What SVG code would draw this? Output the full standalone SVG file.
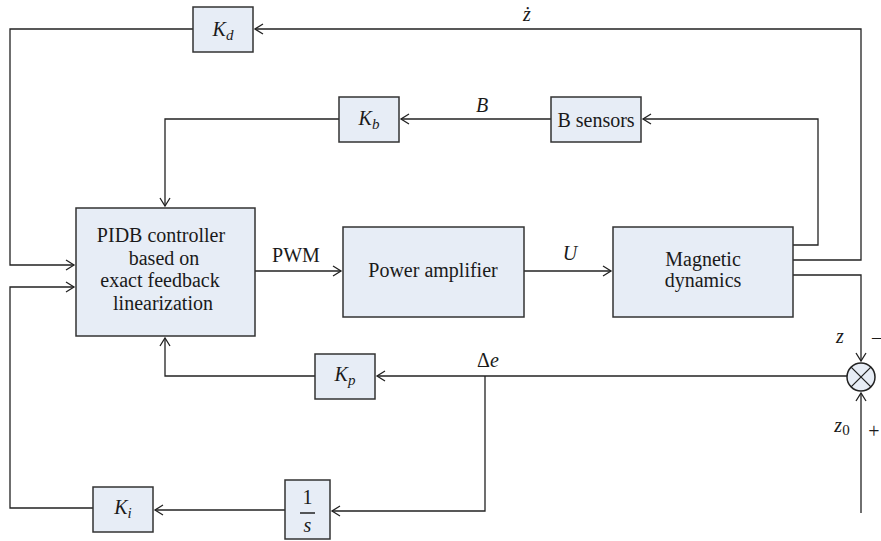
<svg xmlns="http://www.w3.org/2000/svg" width="881" height="541" viewBox="0 0 881 541" font-family="'Liberation Serif', 'DejaVu Serif', 'Times New Roman', serif">
<defs>
<marker id="ah" markerUnits="userSpaceOnUse" markerWidth="12" markerHeight="12" refX="9" refY="6" orient="auto" overflow="visible">
<path d="M1,1 L9,6 L1,11" fill="none" stroke="#222" stroke-width="1.3"/>
</marker>
</defs>
<style>
.box{fill:#e7edf6;stroke:#333;stroke-width:1.5}
.c{fill:none;stroke:#222;stroke-width:1.3;marker-end:url(#ah)}
text{font-family:'Liberation Serif','DejaVu Serif','Times New Roman',serif;font-size:20px;fill:#1a1a1a;text-anchor:middle}
.i{font-style:italic}
</style>
<g id="connectors">
<polyline class="c" points="793,260 861,260 861,29 255,29"/>
<polyline class="c" points="193,29 10,29 10,265 74,265"/>
<polyline class="c" points="793,245 818,245 818,119 643,119"/>
<polyline class="c" points="551,119 401,119"/>
<polyline class="c" points="339,119 165,119 165,206"/>
<polyline class="c" points="255,271 341,271"/>
<polyline class="c" points="524,271 611,271"/>
<polyline class="c" points="793,275 861,275 861,361"/>
<polyline class="c" points="861,513 861,393"/>
<polyline class="c" points="847,376 377,376"/>
<polyline class="c" points="315,376 165,376 165,338"/>
<polyline class="c" points="485,376 485,511 332,511"/>
<polyline class="c" points="285,510 155,510"/>
<polyline class="c" points="93,508 10,508 10,287 74,287"/>
</g>
<g id="labels">
<text class="i" x="527" y="21">ż</text>
<text class="i" x="482" y="112">B</text>
<text x="296" y="262">PWM</text>
<text class="i" x="570" y="260">U</text>
<text x="488" y="367">Δ<tspan class="i">e</tspan></text>
<text class="i" x="840" y="343">z</text>
<text x="877" y="344">–</text>
<text x="842" y="432"><tspan class="i">z</tspan><tspan font-size="15" dy="3">0</tspan></text>
<text x="874" y="438">+</text>
</g>
<g id="Kd">
<rect class="box" x="193" y="7" width="60" height="45"/>
<text class="i" x="223" y="36">K<tspan font-size="15" dy="4">d</tspan></text>
</g>
<g id="Kb">
<rect class="box" x="339" y="97" width="60" height="45"/>
<text class="i" x="369" y="125">K<tspan font-size="15" dy="4">b</tspan></text>
</g>
<g id="Bsensors">
<rect class="box" x="551" y="97" width="90" height="45"/>
<text x="596" y="127">B sensors</text>
</g>
<g id="PIDB">
<rect class="box" x="76" y="208" width="179" height="128"/>
<text x="161" y="242">PIDB controller</text>
<text x="164" y="265">based on</text>
<text x="160" y="287">exact feedback</text>
<text x="163" y="310">linearization</text>
</g>
<g id="PowerAmplifier">
<rect class="box" x="343" y="227" width="181" height="90"/>
<text x="433" y="277">Power amplifier</text>
</g>
<g id="MagneticDynamics">
<rect class="box" x="613" y="227" width="180" height="90"/>
<text x="703" y="266">Magnetic</text>
<text x="703" y="287">dynamics</text>
</g>
<g id="sum">
<circle cx="861" cy="377" r="14" fill="#e7edf6" stroke="#222" stroke-width="1.5"/>
<path d="M851.1,367.1 L870.9,386.9 M870.9,367.1 L851.1,386.9" stroke="#222" stroke-width="1.3"/>
</g>
<g id="Kp">
<rect class="box" x="315" y="354" width="60" height="45"/>
<text class="i" x="345" y="381">K<tspan font-size="15" dy="4">p</tspan></text>
</g>
<g id="integrator">
<rect class="box" x="285" y="480" width="45" height="59"/>
<text x="307.5" y="504">1</text>
<line x1="300" y1="513" x2="315" y2="513" stroke="#222" stroke-width="1.5"/>
<text class="i" x="307.5" y="532">s</text>
</g>
<g id="Ki">
<rect class="box" x="93" y="487" width="60" height="45"/>
<text class="i" x="123" y="514">K<tspan font-size="15" dy="4">i</tspan></text>
</g>
</svg>
